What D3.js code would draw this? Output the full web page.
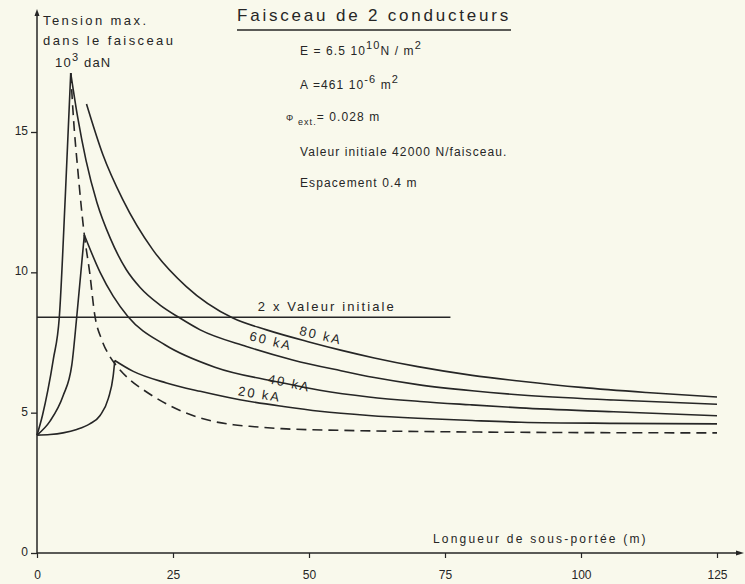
<!DOCTYPE html>
<html>
<head>
<meta charset="utf-8">
<script src="https://cdn.jsdelivr.net/npm/d3@7"></script>
<style>
  body { margin: 0; background: #f9f9ec; }
  svg { display: block; font-family: "Liberation Sans", Arial, sans-serif; }
  text { fill: #262626; }
</style>
</head>
<body>
<div id="chart"></div>
<script>
// values: [sub-span length (m), tension (10^3 daN)]
const xTicks = [0, 25, 50, 75, 100, 125];
const yTicks = [0, 5, 10, 15];
const doubleInitial = [[0, 8.4], [76, 8.4]];

const rise60 = [[0, 4.2], [1, 4.9], [2, 5.8], [3, 6.9], [4.1, 8.4], [5.2, 12.7], [6.2, 17.1]];
const fall60 = [[6.2, 17.1], [7.5, 15.5], [9, 14.0], [11, 12.5], [13.5, 11.2], [16.4, 10.1], [19, 9.45],
  [22.5, 8.85], [26.2, 8.38], [30, 7.95], [38.5, 7.36], [47, 6.88], [55.7, 6.5], [62, 6.25], [70, 6.0],
  [80, 5.78], [89, 5.63], [106, 5.45], [125, 5.3]];

const fall80 = [[9.1, 16.0], [12.1, 14.2], [15.75, 12.6], [21.3, 10.8], [27.4, 9.5], [36, 8.37], [42.2, 7.95],
  [50, 7.52], [56, 7.22], [62, 6.95], [70, 6.64], [80, 6.33], [89, 6.12], [100, 5.9], [112, 5.72], [125, 5.56]];

const rise40 = [[0, 4.2], [2.4, 4.7], [4.8, 5.6], [6.4, 6.7], [7.3, 8.4], [8.7, 11.33]];
const fall40 = [[8.7, 11.33], [11.6, 10.0], [14, 9.15], [16.7, 8.43], [23.5, 7.42], [32.7, 6.62], [45.2, 6.06],
  [52, 5.8], [61, 5.56], [70.4, 5.4], [79.6, 5.28], [88.8, 5.17], [106, 5.03], [125, 4.89]];

const rise20 = [[0, 4.2], [2.4, 4.22], [4.8, 4.28], [7.3, 4.4], [9.7, 4.6], [11.6, 4.9], [13.1, 5.5],
  [14.0, 6.3], [14.3, 6.86]];
const fall20 = [[14.3, 6.86], [17.7, 6.47], [23.8, 6.06], [30, 5.76], [37.3, 5.46], [45.3, 5.22], [52, 5.05],
  [61, 4.9], [70, 4.8], [80, 4.72], [89, 4.66], [106, 4.62], [125, 4.6]];

const limitDashed = [[6.2, 17.1], [6.7, 15.5], [7.5, 13.65], [8.7, 11.33], [9.7, 9.97], [10.6, 8.5],
  [11.9, 7.6], [13.4, 7.0], [14.3, 6.75], [17.1, 6.17], [19.5, 5.82], [21.4, 5.58], [26.6, 5.05],
  [32.4, 4.69], [36.1, 4.57], [40, 4.5], [45, 4.43], [56, 4.37], [75, 4.32], [100, 4.29], [125, 4.28]];

// curve labels: [name, x (m), y, angle]
const curveLabels = [["80 kA", 52.0, 7.6, 13], ["60 kA", 42.8, 7.4, 14], ["40 kA", 46.2, 5.9, 12], ["20 kA", 40.8, 5.5, 9]];

var width = 745, height = 584;

var svg = d3
  .select("#chart")
  .append("svg")
  .attr("width", width)
  .attr("height", height);

var x = d3.scaleLinear().domain([0, 125]).range([37, 717]);
var y = d3.scaleLinear().domain([0, 15]).range([553, 132]);

var ink = "#262626";

// y axis
var yAxis = svg.append("g")
  .attr("transform", "translate(" + x(0) + ",0)")
  .call(d3.axisLeft(y).tickValues(yTicks).tickSize(6).tickPadding(3));
yAxis.select(".domain").remove();
yAxis.selectAll("line").attr("stroke", ink).attr("stroke-width", 1.3);
yAxis.selectAll("text").attr("font-size", 12).attr("dy", "0.2em").style("fill", ink);

svg.append("line")
  .attr("x1", x(0)).attr("x2", x(0))
  .attr("y1", y(0)).attr("y2", 12)
  .attr("stroke", ink).attr("stroke-width", 1.5);
svg.append("path")
  .attr("d", d3.line()([[x(0) - 2.5, 16], [x(0), 9], [x(0) + 2.5, 16]]))
  .attr("fill", ink);

// x axis
var xAxis = svg.append("g")
  .attr("transform", "translate(0," + y(0) + ")")
  .call(d3.axisBottom(x).tickValues(xTicks).tickSize(5).tickPadding(12));
xAxis.select(".domain").remove();
xAxis.selectAll("line").attr("stroke", ink).attr("stroke-width", 1.2);
xAxis.selectAll("text").attr("font-size", 12).style("fill", ink);

svg.append("line")
  .attr("x1", x(0)).attr("x2", 738)
  .attr("y1", y(0)).attr("y2", y(0))
  .attr("stroke", ink).attr("stroke-width", 1.5);
svg.append("path")
  .attr("d", d3.line()([[736, y(0) - 2.5], [744, y(0)], [736, y(0) + 2.5]]))
  .attr("fill", ink);

// curves
var line = d3.line()
  .x(function (d) { return x(d[0]); })
  .y(function (d) { return y(d[1]); })
  .curve(d3.curveMonotoneX);

[rise60, fall60, fall80, rise40, fall40, rise20, fall20].forEach(function (pts) {
  svg.append("path")
    .attr("d", line(pts))
    .attr("fill", "none")
    .attr("stroke", ink)
    .attr("stroke-width", 1.6);
});

svg.append("path")
  .attr("d", line(limitDashed))
  .attr("fill", "none")
  .attr("stroke", ink)
  .attr("stroke-width", 1.6)
  .attr("stroke-dasharray", "10,6");

svg.append("path")
  .attr("d", d3.line().x(function (d) { return x(d[0]); }).y(function (d) { return y(d[1]); })(doubleInitial))
  .attr("fill", "none")
  .attr("stroke", ink)
  .attr("stroke-width", 1.5);

svg.append("text")
  .attr("x", x(40.6)).attr("y", y(8.4) - 6)
  .attr("font-size", 13).attr("letter-spacing", 2.1)
  .text("2 x Valeur initiale");

svg.selectAll(".klabel")
  .data(curveLabels)
  .enter()
  .append("text")
  .attr("class", "klabel")
  .attr("text-anchor", "middle")
  .attr("font-size", 13)
  .attr("letter-spacing", 2)
  .attr("transform", function (d) {
    return "translate(" + x(d[1]) + "," + y(d[2]) + ") rotate(" + d[3] + ")";
  })
  .text(function (d) { return d[0]; });

// axis titles
var yTitle = svg.append("g").attr("font-size", 13).attr("letter-spacing", 2.4);
yTitle.append("text").attr("x", 43).attr("y", 25).text("Tension max.");
yTitle.append("text").attr("x", 43).attr("y", 45).text("dans le faisceau");
var unit = yTitle.append("text").attr("x", 55).attr("y", 67).attr("letter-spacing", 1.2);
unit.append("tspan").text("10");
unit.append("tspan").attr("dy", -6).attr("font-size", 11).text("3");
unit.append("tspan").attr("dy", 6).text(" daN");

svg.append("text")
  .attr("x", 433).attr("y", 543)
  .attr("font-size", 12).attr("letter-spacing", 2.2)
  .text("Longueur de sous-portée (m)");

// title block
svg.append("text")
  .attr("x", 237).attr("y", 21)
  .attr("font-size", 17).attr("letter-spacing", 2.8)
  .text("Faisceau de 2 conducteurs");
svg.append("line")
  .attr("x1", 237).attr("x2", 511).attr("y1", 30).attr("y2", 30)
  .attr("stroke", ink).attr("stroke-width", 1.6);

var notes = svg.append("g").attr("font-size", 12).attr("letter-spacing", 1.1);

var e = notes.append("text").attr("x", 300).attr("y", 55);
e.append("tspan").text("E = 6.5  10");
e.append("tspan").attr("dy", -6).attr("font-size", 11).text("10");
e.append("tspan").attr("dy", 6).text("N / m");
e.append("tspan").attr("dy", -6).attr("font-size", 11).text("2");

var a = notes.append("text").attr("x", 300).attr("y", 89);
a.append("tspan").text("A =461  10");
a.append("tspan").attr("dy", -6).attr("font-size", 11).text("-6");
a.append("tspan").attr("dy", 6).text("  m");
a.append("tspan").attr("dy", -6).attr("font-size", 11).text("2");

var phi = notes.append("text").attr("x", 286).attr("y", 121);
phi.append("tspan").attr("font-size", 9).text("Φ");
phi.append("tspan").attr("dy", 4).attr("font-size", 9).text(" ext.");
phi.append("tspan").attr("dy", -4).text("= 0.028 m");

notes.append("text").attr("x", 300).attr("y", 156).text("Valeur initiale 42000 N/faisceau.");
notes.append("text").attr("x", 300).attr("y", 187).text("Espacement 0.4 m");
</script>
</body>
</html>
